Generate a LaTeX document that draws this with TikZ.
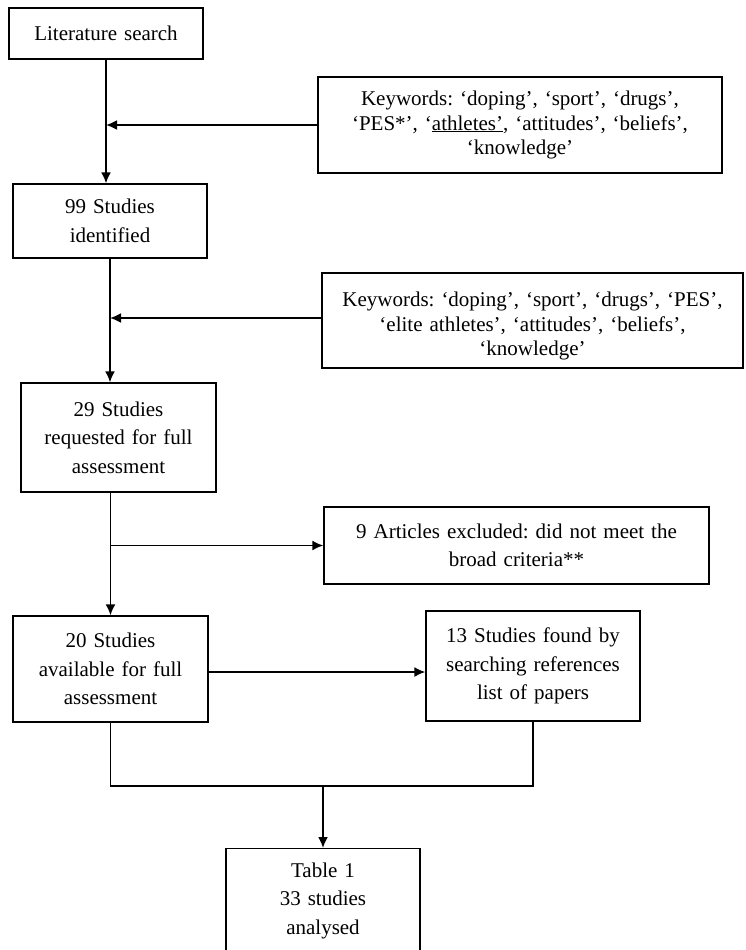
\documentclass[tikz,border=0pt]{standalone}
\usepackage{fontspec}
\setmainfont{Liberation Serif}
\usetikzlibrary{arrows.meta, calc, positioning}
\tikzset{
    stepBox/.style={draw, rectangle, line width=1.3pt, align=center, inner sep=0pt, font=\fontsize{21}{28.5}\selectfont\frenchspacing},
    keyBox/.style={stepBox, font=\fontsize{21}{24.5}\selectfont\frenchspacing},
    flowEdge/.style={-{Latex[length=11pt, width=10pt]}, line width=1.8pt},
    flowLine/.style={line width=1.8pt},
}

\begin{document}
\begin{tikzpicture}[x=1pt, y=-1pt]
    \clip (0,0) rectangle (745,950);

    % search stages
    \node[stepBox, minimum width=194pt, minimum height=51pt, text width=190pt] (lit) at (106,33.5) {Literature search};
    \node[keyBox, minimum width=404pt, minimum height=96pt, text width=398pt] (kwA) at (520,125)
        {Keywords: ‘doping’, ‘sport’, ‘drugs’,\\ ‘PES*’, ‘\underline{athletes’}, ‘attitudes’, ‘beliefs’,\\ ‘knowledge’};
    \node[stepBox, minimum width=194pt, minimum height=74pt, text width=190pt] (id99) at (110,221) {99 Studies\\identified};
    \node[keyBox, minimum width=421pt, minimum height=95pt, text width=415pt] (kwB) at (532.5,320.5)
        {\rule{0pt}{26pt}Keywords: ‘doping’, ‘sport’, ‘drugs’, ‘PES’,\\ ‘elite athletes’, ‘attitudes’, ‘beliefs’,\\ ‘knowledge’};
    \node[stepBox, minimum width=195pt, minimum height=109pt, text width=190pt] (req29) at (118.5,437.5) {29 Studies\\requested for full\\assessment};
    \node[stepBox, minimum width=385pt, minimum height=77pt, text width=380pt] (excl) at (516.5,545.5) {9 Articles excluded: did not meet the\\broad criteria**};
    \node[stepBox, minimum width=195pt, minimum height=106pt, text width=190pt] (avail20) at (110.5,669) {20 Studies\\available for full\\assessment};
    \node[stepBox, minimum width=214pt, minimum height=110pt, text width=208pt] (found13) at (533,666) {13 Studies found by\\searching references\\list of papers};
    \node[stepBox, anchor=north, minimum width=194pt, text width=190pt, inner ysep=14pt] (table) at (323,848) {Table 1\\33 studies\\analysed\\[40pt]\strut};

    % connectors
    \draw[flowEdge] (lit.south) -- (lit.south |- id99.north);
    \draw[flowEdge] (kwA.west) -- (kwA.west -| lit.south);
    \draw[flowEdge] (id99.south) -- (id99.south |- req29.north);
    \draw[flowEdge] ([yshift=2.5pt]kwB.west) -- ([yshift=2.5pt]kwB.west -| id99.south);
    \draw[flowEdge] (avail20.north |- req29.south) -- (avail20.north);
    \draw[flowEdge] (avail20.north |- excl.west) -- (excl.west);
    \draw[flowEdge] ([yshift=-3pt]avail20.east) -- ([yshift=-3pt]avail20.east -| found13.west);

    \coordinate (merge) at (323,786);
    \draw[flowLine] (avail20.south) |- (merge -| found13.south) -- (found13.south);
    \draw[flowEdge] (merge) -- (table.north);

\end{tikzpicture}
\end{document}
